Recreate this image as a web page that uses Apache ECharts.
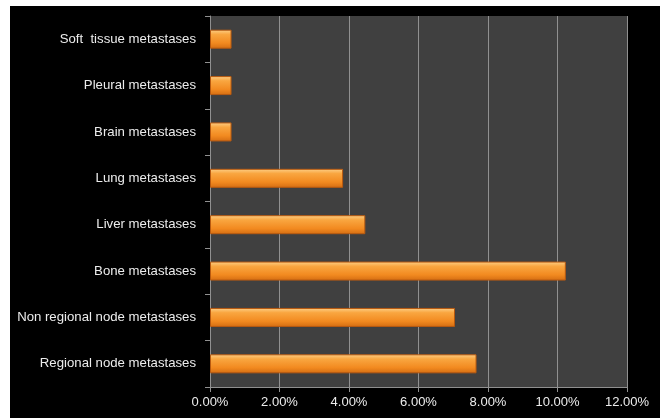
<!DOCTYPE html>
<html>
<head>
<meta charset="utf-8">
<script src="https://cdn.jsdelivr.net/npm/echarts@6/dist/echarts.min.js"></script>
<style>
html,body{margin:0;padding:0;background:#fff;width:660px;height:418px;overflow:hidden;}
#c{position:absolute;left:10px;top:6px;width:650px;height:412px;background:#000;}
</style>
</head>
<body>
<div id="c"></div>
<script>
var categories = ["Regional node metastases","Non regional node metastases","Bone metastases","Liver metastases","Lung metastases","Brain metastases","Pleural metastases","Soft  tissue metastases"];
var values = [7.67, 7.05, 10.24, 4.47, 3.83, 0.62, 0.62, 0.62];
var xTicks = [0, 2, 4, 6, 8, 10, 12];

var chart = echarts.init(document.getElementById('c'));
chart.setOption({
  backgroundColor: '#000',
  animation: false,
  grid: {left: 200, right: 33, top: 10, bottom: 31, show: true, backgroundColor: '#404040', borderWidth: 0},
  xAxis: {
    type: 'value', min: xTicks[0], max: xTicks[xTicks.length-1], interval: 2,
    axisLine: {show: true, lineStyle: {color: '#909090', width: 1}},
    axisTick: {show: true, length: 5, lineStyle: {color: '#909090'}},
    splitLine: {show: true, lineStyle: {color: '#909090', width: 1}},
    axisLabel: {color: '#ececec', fontFamily: 'Liberation Sans Narrow, Arial Narrow, sans-serif', fontSize: 13, margin: 9,
      formatter: function(v){ return v.toFixed(2) + '%'; }}
  },
  yAxis: {
    type: 'category', data: categories,
    axisLine: {show: true, lineStyle: {color: '#909090', width: 1}},
    axisTick: {show: true, length: 5, lineStyle: {color: '#909090'}},
    axisLabel: {color: '#ececec', fontFamily: 'Liberation Sans Narrow, Arial Narrow, sans-serif', fontSize: 13.2, margin: 14}
  },
  series: [{
    type: 'bar', data: values, barWidth: 19,
    itemStyle: {
      borderColor: '#b85a10', borderWidth: 1,
      color: new echarts.graphic.LinearGradient(0, 0, 0, 1, [
        {offset: 0, color: '#fdd089'},
        {offset: 0.25, color: '#f9a640'},
        {offset: 0.7, color: '#f28a20'},
        {offset: 1, color: '#d46d12'}
      ])
    }
  }]
});
</script>
</body>
</html>
